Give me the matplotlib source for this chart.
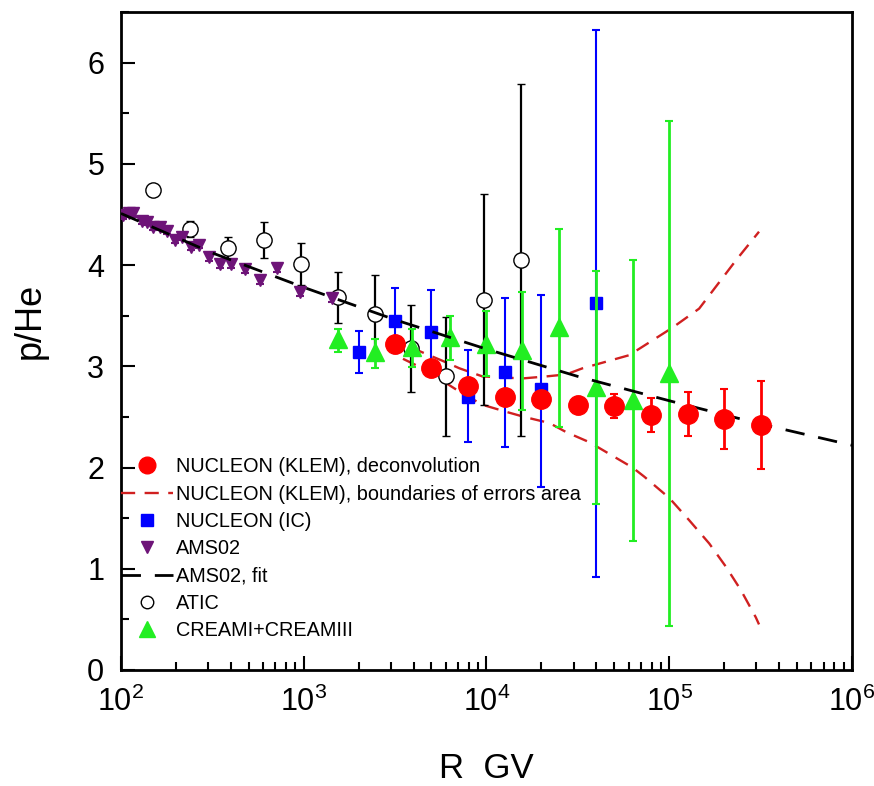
import numpy as np
import matplotlib.pyplot as plt
from matplotlib.lines import Line2D
from matplotlib.ticker import LogLocator, LogFormatterMathtext, MultipleLocator, NullFormatter

plt.rcParams['font.family'] = ['Liberation Sans', 'DejaVu Sans']
plt.rcParams['mathtext.default'] = 'regular'

# NUCLEON (KLEM), deconvolution
klem_r = [3160, 5000, 7900, 12600, 20000, 31600, 50000, 79000, 126000, 200000, 316000]
klem_v = [3.22, 2.98, 2.81, 2.70, 2.68, 2.62, 2.61, 2.52, 2.53, 2.48, 2.42]
klem_err = [0.05, 0.05, 0.05, 0.05, 0.06, 0.08, 0.12, 0.165, 0.22, 0.30, 0.43]

# NUCLEON (KLEM), boundaries of errors area
up_r = [2950, 4300, 5650, 7120, 9510, 15700, 21200, 27300, 33500, 60400, 103800, 145800, 232500, 310000]
up_v = [3.29, 3.15, 3.06, 2.98, 2.90, 2.88, 2.90, 2.92, 2.98, 3.11, 3.38, 3.57, 4.05, 4.33]
lo_r = [2950, 3350, 4470, 7120, 9510, 12850, 16100, 22100, 27300, 36600, 63000, 73000, 100000,
        128500, 165500, 204300, 246500, 297700, 310000]
lo_v = [3.26, 3.09, 2.98, 2.75, 2.62, 2.55, 2.50, 2.44, 2.35, 2.25, 2.00, 1.91, 1.70,
        1.48, 1.25, 1.02, 0.79, 0.52, 0.45]

# NUCLEON (IC)
ic_r = [2000, 3160, 5000, 7900, 12600, 20000, 39800]
ic_v = [3.14, 3.45, 3.34, 2.70, 2.94, 2.78, 3.63]
ic_lo = [0.21, 0.32, 0.41, 0.45, 0.74, 0.97, 2.71]
ic_hi = [0.21, 0.32, 0.41, 0.46, 0.73, 0.92, 2.69]

# AMS02
ams_r = [103, 110, 117, 130, 138, 150, 163, 179, 197, 217, 241, 268, 304, 347, 402, 476,
         575, 718, 951, 1420]
ams_v = [4.49, 4.51, 4.51, 4.44, 4.43, 4.38, 4.38, 4.34, 4.25, 4.28, 4.18, 4.20, 4.08, 4.01,
         4.01, 3.96, 3.85, 3.97, 3.73, 3.67]
ams_err = [0.035] * 20

# AMS02, fit
fit_r = [1e2, 10**2.5, 1e3, 10**3.5, 1e4, 10**4.5, 1e5, 10**5.5, 1e6]
fit_v = [4.51, 4.12, 3.78, 3.46, 3.17, 2.90, 2.66, 2.43, 2.22]

# ATIC
atic_r = [150, 238, 385, 604, 963, 1540, 2440, 3880, 6030, 9750, 15500]
atic_v = [4.74, 4.36, 4.17, 4.25, 4.01, 3.68, 3.52, 3.18, 2.90, 3.66, 4.05]
atic_err = [0.06, 0.08, 0.11, 0.18, 0.21, 0.25, 0.38, 0.43, 0.59, 1.04, 1.74]

# CREAMI+CREAMIII
cream_r = [1540, 2470, 3930, 6280, 9950, 15700, 25000, 39800, 63000, 100000]
cream_v = [3.27, 3.14, 3.19, 3.29, 3.22, 3.16, 3.39, 2.80, 2.67, 2.93]
cream_lo = [0.13, 0.16, 0.20, 0.23, 0.32, 0.59, 0.99, 1.16, 1.40, 2.50]
cream_hi = [0.10, 0.13, 0.18, 0.21, 0.33, 0.57, 0.97, 1.14, 1.38, 2.49]

red = '#ff0000'
dred = '#d02020'
blue = '#0000ff'
purple = '#6e1478'
green = '#22ee22'

fig = plt.figure(figsize=(8.74, 7.86), dpi=100)
ax = fig.add_axes([0.1384, 0.1476, 0.8364, 0.8371])

ax.plot(up_r, up_v, color=dred, lw=1.7, dashes=(6, 4), zorder=2)
ax.plot(lo_r, lo_v, color=dred, lw=1.7, dashes=(6, 4), zorder=2)

ax.errorbar(atic_r, atic_v, yerr=atic_err, fmt='o', ms=11, mfc='white', mec='black', mew=1,
            ecolor='black', elinewidth=1.6, capsize=3, capthick=1.6, zorder=3)
ax.errorbar(ams_r, ams_v, yerr=ams_err, fmt='v', ms=8, color=purple, ecolor=purple,
            elinewidth=1.5, capsize=3, capthick=1.5, zorder=3)
ax.errorbar(ic_r, ic_v, yerr=[ic_lo, ic_hi], fmt='s', ms=9, color=blue, ecolor=blue,
            elinewidth=1.5, capsize=3, capthick=1.5, zorder=4)
ax.errorbar(cream_r, cream_v, yerr=[cream_lo, cream_hi], fmt='^', ms=13, color=green, ecolor=green,
            elinewidth=2, capsize=3, capthick=1.5, zorder=5)
ax.plot(fit_r, fit_v, color='black', lw=2, dashes=(7, 5), zorder=6)
ax.errorbar(klem_r, klem_v, yerr=klem_err, fmt='o', ms=14, color=red, ecolor=red,
            elinewidth=2, capsize=3, capthick=1.5, zorder=7)

ax.set_xscale('log')
ax.set_xlim(1e2, 1e6)
ax.set_ylim(0, 6.5)
ax.xaxis.set_major_locator(LogLocator(base=10, numticks=10))
ax.xaxis.set_minor_locator(LogLocator(base=10, subs=np.arange(2, 10), numticks=50))
ax.xaxis.set_major_formatter(LogFormatterMathtext())
ax.xaxis.set_minor_formatter(NullFormatter())
ax.yaxis.set_major_locator(MultipleLocator(1))
ax.yaxis.set_minor_locator(MultipleLocator(0.5))

ax.tick_params(which='both', direction='in', top=False, right=False, width=1.5)
ax.tick_params(which='major', length=10, labelsize=22, pad=12)
ax.tick_params(which='minor', length=6)
for s in ax.spines.values():
    s.set_linewidth(2)

ax.set_xlabel('R  GV', fontsize=25)
ax.set_ylabel('p/He', fontsize=26)
ax.xaxis.set_label_coords(0.5, -0.125)
ax.yaxis.set_label_coords(-0.1, 0.53)

handles = [
    Line2D([], [], color=red, marker='o', ls='none', ms=12),
    Line2D([], [], color=dred, lw=1.7, dashes=(6, 4)),
    Line2D([], [], color=blue, marker='s', ls='none', ms=9),
    Line2D([], [], color=purple, marker='v', ls='none', ms=9),
    Line2D([], [], color='black', lw=2, dashes=(7, 5)),
    Line2D([], [], color='black', marker='o', mfc='white', ls='none', ms=9),
    Line2D([], [], color=green, marker='^', ls='none', ms=12),
]
labels = ['NUCLEON (KLEM), deconvolution', 'NUCLEON (KLEM), boundaries of errors area',
          'NUCLEON (IC)', 'AMS02', 'AMS02, fit', 'ATIC', 'CREAMI+CREAMIII']
ax.legend(handles, labels, loc='lower left', bbox_to_anchor=(0.0, 0.045), frameon=False,
          fontsize=14.3, handlelength=2.6, handletextpad=0.15, labelspacing=0.42,
          borderaxespad=0, borderpad=0)

fig.savefig('out.png', dpi=100)
